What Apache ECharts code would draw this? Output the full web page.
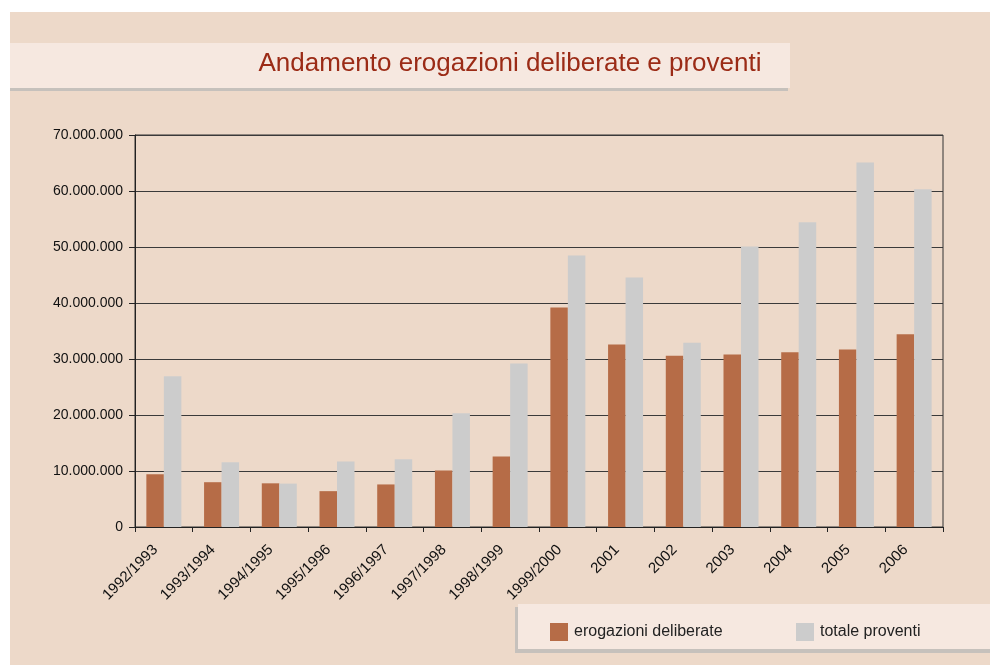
<!DOCTYPE html>
<html>
<head>
<meta charset="utf-8">
<script src="https://cdn.jsdelivr.net/npm/echarts@6/dist/echarts.min.js"></script>
<style>
  html, body { margin: 0; padding: 0; background: #ffffff; }
  #chart { width: 990px; height: 665px; }
</style>
</head>
<body>
<div id="chart"></div>
<script>
const categories = ['1992/1993', '1993/1994', '1994/1995', '1995/1996', '1996/1997', '1997/1998', '1998/1999', '1999/2000', '2001', '2002', '2003', '2004', '2005', '2006'];
const erogazioniDeliberate = [9400000, 8000000, 7800000, 6400000, 7600000, 10100000, 12600000, 39200000, 32600000, 30600000, 30800000, 31200000, 31700000, 34400000];
const totaleProventi = [26900000, 11550000, 7750000, 11700000, 12100000, 20300000, 29200000, 48500000, 44550000, 32900000, 50100000, 54400000, 65100000, 60300000];
const seriesNames = ['erogazioni deliberate', 'totale proventi'];
const titleText = 'Andamento erogazioni deliberate e proventi';

const FONT = '"Liberation Sans", Arial, sans-serif';
const chart = echarts.init(document.getElementById('chart'), null, { renderer: 'canvas' });

function fmt(v) {
  return String(v).replace(/\B(?=(\d{3})+(?!\d))/g, '.');
}

chart.setOption({
  backgroundColor: '#ffffff',
  animation: false,
  graphic: [
    { type: 'rect', z: -10, shape: { x: 10, y: 12, width: 980, height: 653 }, style: { fill: '#EDD9C9' } },
    { type: 'rect', z: -9, shape: { x: 10, y: 46, width: 778, height: 45 }, style: { fill: '#C6C1BC' } },
    { type: 'rect', z: -8, shape: { x: 10, y: 43, width: 780, height: 45 }, style: { fill: '#F6E8E0' } },
    { type: 'rect', z: -9, shape: { x: 515, y: 607, width: 475, height: 46 }, style: { fill: '#C6C1BC' } },
    { type: 'rect', z: -8, shape: { x: 518, y: 604, width: 472, height: 45 }, style: { fill: '#F6E8E0' } }
  ],
  title: {
    text: titleText,
    left: 505,
    textAlign: 'center',
    top: 46,
    textStyle: { color: '#9B2B16', fontSize: 26, fontWeight: 'normal', fontFamily: FONT }
  },
  legend: [
    {
      data: [seriesNames[0]],
      left: 545, top: 618,
      itemWidth: 18, itemHeight: 18, itemGap: 10,
      icon: 'rect',
      textStyle: { fontSize: 16, color: '#222', fontFamily: FONT, padding: [0, 0, 0, 1] }
    },
    {
      data: [seriesNames[1]],
      left: 791, top: 618,
      itemWidth: 18, itemHeight: 18, itemGap: 10,
      icon: 'rect',
      textStyle: { fontSize: 16, color: '#222', fontFamily: FONT, padding: [0, 0, 0, 1] }
    }
  ],
  grid: {
    left: 135, right: 47, top: 135, bottom: 138,
    show: true, borderColor: '#333', borderWidth: 1, backgroundColor: 'transparent'
  },
  xAxis: {
    type: 'category',
    data: categories,
    boundaryGap: true,
    axisLine: { show: true, lineStyle: { color: '#222', width: 1 } },
    axisTick: { show: true, alignWithLabel: false, length: 5, lineStyle: { color: '#222' } },
    axisLabel: { rotate: 45, margin: 12, padding: [0, 12, 0, 0], fontSize: 15, color: '#111', fontFamily: FONT, interval: 0 }
  },
  yAxis: {
    type: 'value',
    min: 0, max: 70000000, interval: 10000000,
    axisLine: { show: true, lineStyle: { color: '#222', width: 1 } },
    axisTick: { show: true, length: 6, lineStyle: { color: '#222' } },
    axisLabel: { fontSize: 14, color: '#111', fontFamily: FONT, margin: 12, formatter: fmt },
    splitLine: { show: true, lineStyle: { color: '#3a3a3a', width: 1 } }
  },
  series: [
    {
      name: seriesNames[0], type: 'bar', data: erogazioniDeliberate,
      barWidth: 17.5, barGap: '0%',
      itemStyle: { color: '#B66C47' }
    },
    {
      name: seriesNames[1], type: 'bar', data: totaleProventi,
      barWidth: 17.5, barGap: '0%',
      itemStyle: { color: '#CCCCCC' }
    }
  ]
});
</script>
</body>
</html>
